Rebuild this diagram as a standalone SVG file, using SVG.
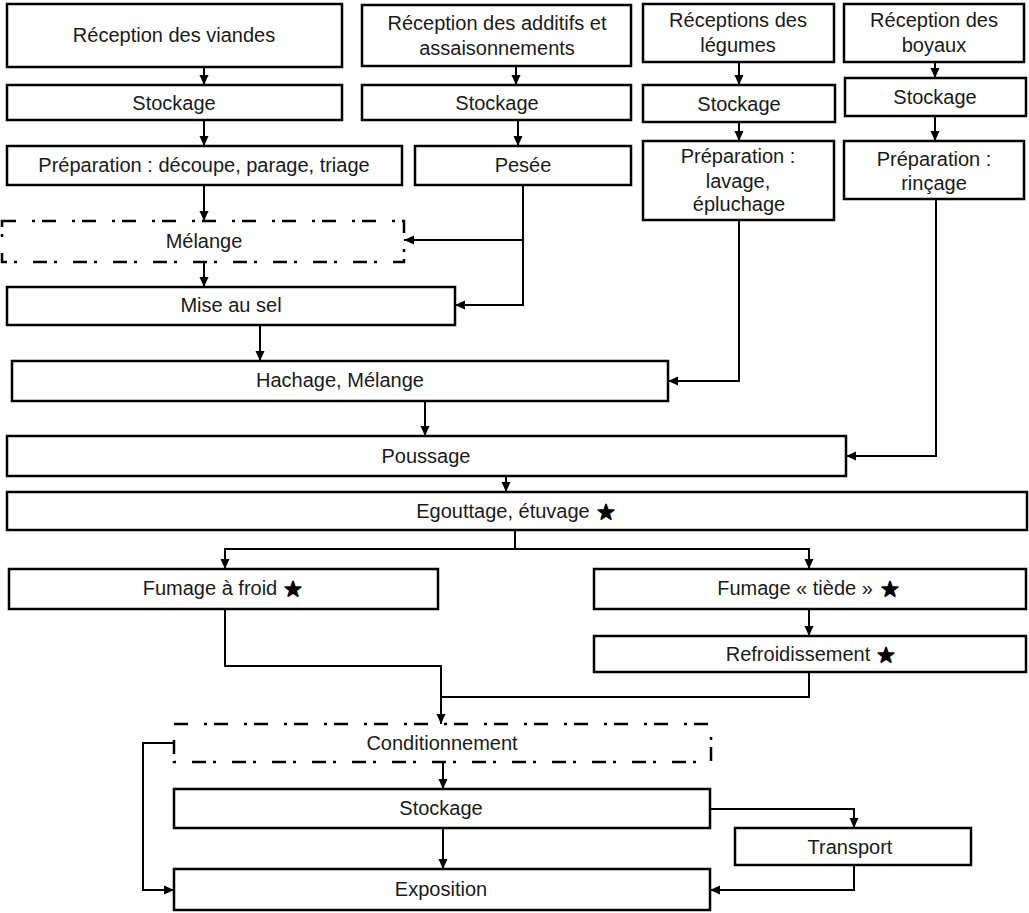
<svg xmlns="http://www.w3.org/2000/svg" width="1029" height="913" viewBox="0 0 1029 913">
<defs>
<style>
.box{fill:#fff;stroke:#000;stroke-width:2.5}
.dd{fill:#fff;stroke:#000;stroke-width:2.5;stroke-dasharray:14 16 3 7}
.t{font-family:"Liberation Sans",Arial,sans-serif;font-size:20px;fill:#1a1a1a;text-anchor:middle}
.st{font-family:"DejaVu Sans",sans-serif;font-size:20px;fill:#000;stroke:#000;stroke-width:1.8;stroke-linejoin:round}
.c{fill:none;stroke:#000;stroke-width:2}
</style>
<marker id="ah" markerUnits="userSpaceOnUse" markerWidth="10" markerHeight="10" viewBox="0 0 10 10" refX="10" refY="5" orient="auto">
<path d="M0,0.5 L10,5 L0,9.5 Z" fill="#000"/>
</marker>
</defs>
<rect width="1029" height="913" fill="#fff"/>
<g id="connectors">
<path class="c" marker-end="url(#ah)" d="M204 67 V85"/>
<path class="c" marker-end="url(#ah)" d="M204 120 V146"/>
<path class="c" marker-end="url(#ah)" d="M204 185 V221"/>
<path class="c" marker-end="url(#ah)" d="M204 262 V287"/>
<path class="c" marker-end="url(#ah)" d="M260 325 V361"/>
<path class="c" marker-end="url(#ah)" d="M516 66 V85"/>
<path class="c" marker-end="url(#ah)" d="M518 120 V146"/>
<path class="c" marker-end="url(#ah)" d="M523 185 V305 H455"/>
<path class="c" marker-end="url(#ah)" d="M523 240 H404"/>
<path class="c" marker-end="url(#ah)" d="M739 62 V85"/>
<path class="c" marker-end="url(#ah)" d="M739 122 V141"/>
<path class="c" marker-end="url(#ah)" d="M739 220 V381 H668"/>
<path class="c" marker-end="url(#ah)" d="M935 62 V78"/>
<path class="c" marker-end="url(#ah)" d="M935 116 V141"/>
<path class="c" marker-end="url(#ah)" d="M936 199 V456 H846"/>
<path class="c" marker-end="url(#ah)" d="M425 401 V436"/>
<path class="c" marker-end="url(#ah)" d="M506 476 V492"/>
<path class="c" marker-end="url(#ah)" d="M515 531 V549 H225 V569"/>
<path class="c" marker-end="url(#ah)" d="M515 549 H809 V569"/>
<path class="c" marker-end="url(#ah)" d="M809 609 V636"/>
<path class="c" marker-end="url(#ah)" d="M225 609 V666 H441 V724"/>
<path class="c" d="M809 672 V697 H441"/>
<path class="c" marker-end="url(#ah)" d="M443 762 V789"/>
<path class="c" marker-end="url(#ah)" d="M443 828 V869"/>
<path class="c" marker-end="url(#ah)" d="M710 809 H854 V828"/>
<path class="c" marker-end="url(#ah)" d="M854 865 V890 H710"/>
<path class="c" marker-end="url(#ah)" d="M174 743 H143 V890 H174"/>
</g>
<g id="n-viandes"><rect class="box" x="7" y="4" width="335" height="63"/><text class="t" x="174" y="42">Réception des  viandes</text></g>
<g id="n-stock1"><rect class="box" x="7" y="85" width="335" height="35"/><text class="t" x="174" y="110">Stockage</text></g>
<g id="n-prep1"><rect class="box" x="7" y="146" width="395" height="39"/><text class="t" x="204" y="172">Préparation : découpe, parage, triage</text></g>
<g id="n-melange"><rect class="dd" x="2" y="221" width="402" height="41"/><text class="t" x="204" y="248">Mélange</text></g>
<g id="n-sel"><rect class="box" x="7" y="287" width="448" height="38"/><text class="t" x="231" y="312">Mise au sel</text></g>
<g id="n-additifs"><rect class="box" x="362" y="5" width="269" height="61"/><text class="t" x="497" y="30">Réception des additifs et</text><text class="t" x="497" y="55">assaisonnements</text></g>
<g id="n-stock2"><rect class="box" x="362" y="85" width="269" height="35"/><text class="t" x="497" y="110">Stockage</text></g>
<g id="n-pesee"><rect class="box" x="415" y="146" width="216" height="39"/><text class="t" x="523" y="172">Pesée</text></g>
<g id="n-legumes"><rect class="box" x="643" y="4" width="191" height="58"/><text class="t" x="738" y="27">Réceptions des</text><text class="t" x="738" y="52">légumes</text></g>
<g id="n-stock3"><rect class="box" x="643" y="85" width="192" height="37"/><text class="t" x="739" y="111">Stockage</text></g>
<g id="n-prep3"><rect class="box" x="643" y="141" width="191" height="79"/><text class="t" x="738" y="163">Préparation :</text><text class="t" x="738" y="188">lavage,</text><text class="t" x="739" y="211">épluchage</text></g>
<g id="n-boyaux"><rect class="box" x="844" y="4" width="180" height="58"/><text class="t" x="934" y="27">Réception des</text><text class="t" x="934" y="52">boyaux</text></g>
<g id="n-stock4"><rect class="box" x="845" y="78" width="181" height="38"/><text class="t" x="935" y="104">Stockage</text></g>
<g id="n-prep4"><rect class="box" x="844" y="141" width="180" height="58"/><text class="t" x="934" y="166">Préparation :</text><text class="t" x="934" y="190">rinçage</text></g>
<g id="n-hachage"><rect class="box" x="12" y="361" width="656" height="40"/><text class="t" x="340" y="387">Hachage, Mélange</text></g>
<g id="n-poussage"><rect class="box" x="7" y="436" width="839" height="40"/><text class="t" x="426" y="463">Poussage</text></g>
<g id="n-egouttage"><rect class="box" x="7" y="492" width="1020" height="38"/><text class="t" x="503" y="518">Egouttage, étuvage</text><text class="st" x="597" y="519">★</text></g>
<g id="n-froid"><rect class="box" x="9" y="569" width="429" height="40"/><text class="t" x="210" y="595">Fumage à froid</text><text class="st" x="284" y="596">★</text></g>
<g id="n-tiede"><rect class="box" x="594" y="569" width="432" height="40"/><text class="t" x="795" y="595">Fumage « tiède »</text><text class="st" x="881" y="596">★</text></g>
<g id="n-refroid"><rect class="box" x="594" y="636" width="432" height="36"/><text class="t" x="798" y="661">Refroidissement</text><text class="st" x="877" y="662">★</text></g>
<g id="n-cond"><rect class="dd" x="174" y="724" width="537" height="38"/><text class="t" x="442" y="750">Conditionnement</text></g>
<g id="n-stock5"><rect class="box" x="174" y="789" width="536" height="39"/><text class="t" x="441" y="815">Stockage</text></g>
<g id="n-transport"><rect class="box" x="735" y="828" width="236" height="37"/><text class="t" x="850" y="854">Transport</text></g>
<g id="n-expo"><rect class="box" x="174" y="869" width="536" height="41"/><text class="t" x="441" y="896">Exposition</text></g>
</svg>
